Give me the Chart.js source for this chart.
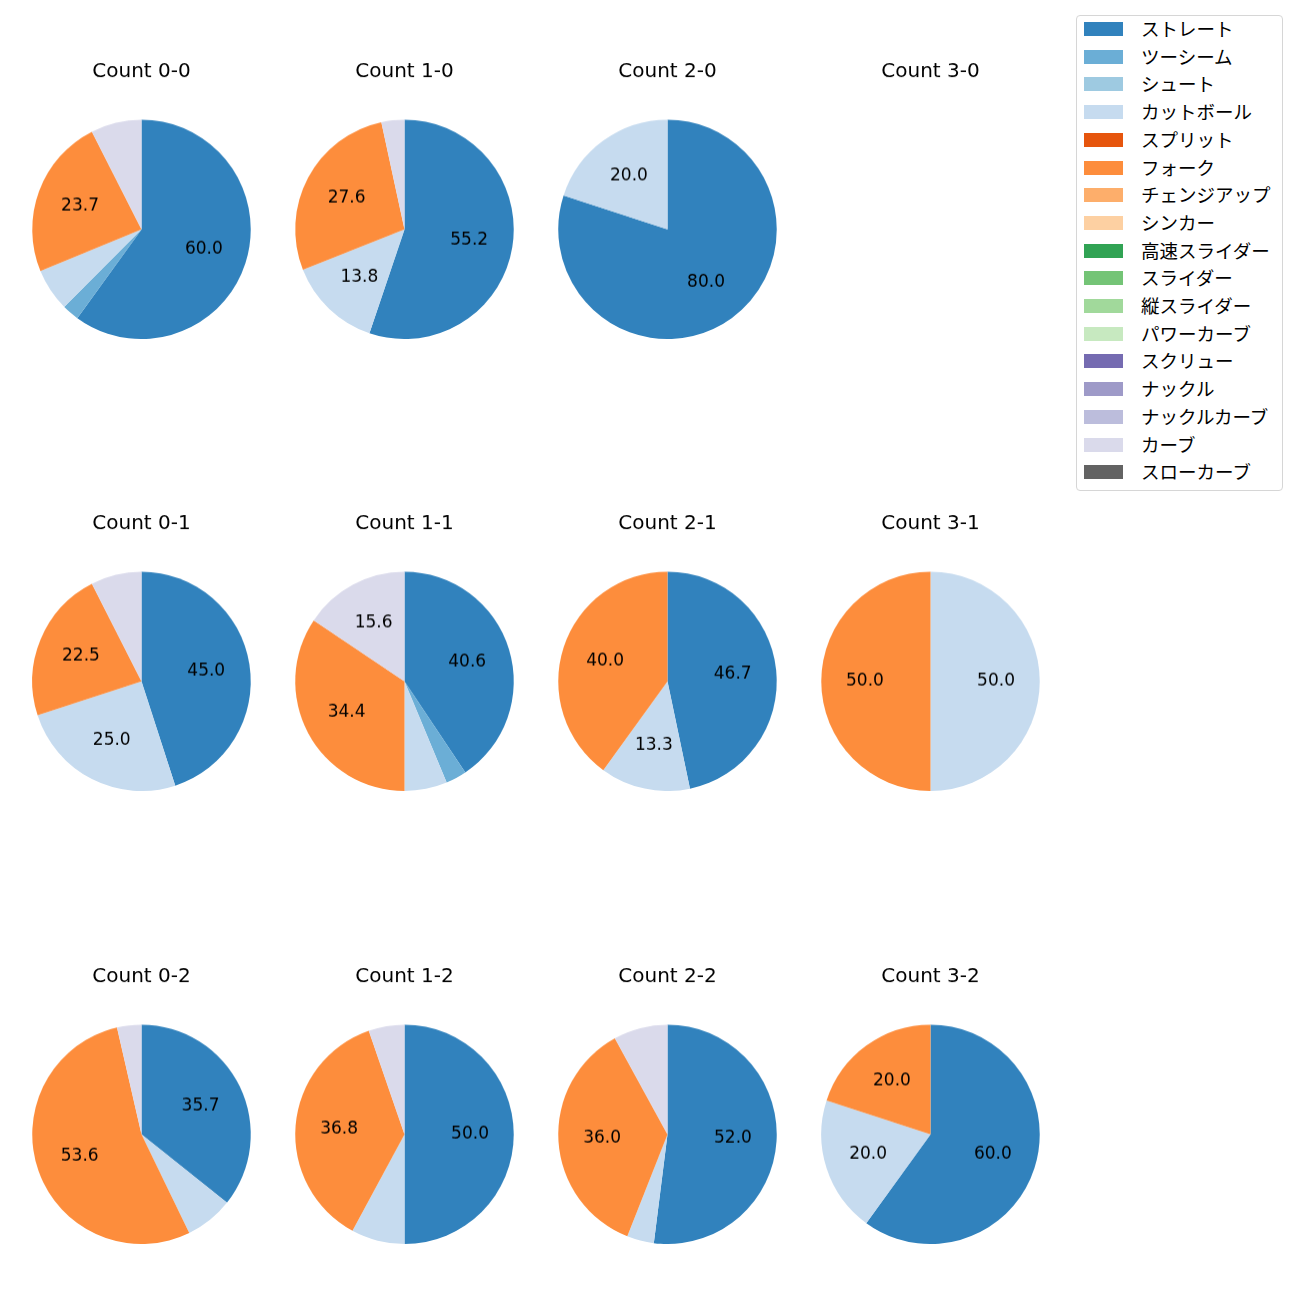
<!DOCTYPE html>
<html>
<head>
<meta charset="utf-8">
<script src="https://cdn.jsdelivr.net/npm/chart.js@4"></script>
<style>
  body { margin: 0; background: #fff; font-family: "Noto Sans CJK JP", sans-serif; }
  #page { position: relative; width: 1300px; height: 1300px; }
  #legend {
    position: absolute; left: 1076px; top: 15px; width: 205px; height: 474px;
    border: 1px solid #d6d6d6; border-radius: 4px; background: #fff;
  }
  .item { position: absolute; left: 7px; height: 20px; font-size: 18.5px; line-height: 20px; color: #000; white-space: nowrap; }
  .item span.box { position: absolute; left: 0; top: 3px; width: 39px; height: 14px; }
  .item span.txt { position: absolute; left: 57px; top: -1px; }
</style>
</head>
<body>
<div id="page"><div id="legend"></div></div>
<script>
  const pitchTypes = [
    "ストレート", "ツーシーム", "シュート", "カットボール", "スプリット", "フォーク",
    "チェンジアップ", "シンカー", "高速スライダー", "スライダー", "縦スライダー",
    "パワーカーブ", "スクリュー", "ナックル", "ナックルカーブ", "カーブ", "スローカーブ",
  ];
  const colors = [
    "#3182bd", "#6baed6", "#9ecae1", "#c6dbef", "#e6550d", "#fd8d3c",
    "#fdae6b", "#fdd0a2", "#31a354", "#74c476", "#a1d99b", "#c7e9c0",
    "#756bb1", "#9e9ac8", "#bcbddc", "#dadaeb", "#636363",
  ];

  // counts in grid order (row by row)
  const counts = ["0-0", "1-0", "2-0", "3-0", "0-1", "1-1", "2-1", "3-1", "0-2", "1-2", "2-2", "3-2"];

  // share (%) of each pitch type per count
  const straight = [60.0, 55.2, 80.0, 0, 45.0, 40.6, 46.7, 0, 35.7, 50.0, 52.0, 60.0];
  const twoSeam = [2.5, 0, 0, 0, 0, 3.1, 0, 0, 0, 0, 0, 0];
  const cutter = [6.3, 13.8, 20.0, 0, 25.0, 6.3, 13.3, 50.0, 7.1, 7.9, 4.0, 20.0];
  const fork = [23.7, 27.6, 0, 0, 22.5, 34.4, 40.0, 50.0, 53.6, 36.8, 36.0, 20.0];
  const curve = [7.5, 3.4, 0, 0, 7.5, 15.6, 0, 0, 3.6, 5.3, 8.0, 0];

  const seriesByType = {
    "ストレート": straight,
    "ツーシーム": twoSeam,
    "カットボール": cutter,
    "フォーク": fork,
    "カーブ": curve,
  };

  const colX = [141, 404, 667, 930];
  const rowY = [229, 681, 1134];
  const R = 109.5;
  const titleSize = 20;
  const titleGap = 157; // pie centre to title line centre
  const latin = '"DejaVu Sans", "Noto Sans CJK JP", sans-serif';

  // percent labels at 0.6 of the radius, hidden under 10%
  const pctLabels = {
    id: "pctLabels",
    afterDatasetsDraw(chart) {
      const ctx = chart.ctx;
      const ds = chart.data.datasets[0];
      const total = ds.data.reduce((a, b) => a + b, 0);
      if (!total) return;
      ctx.save();
      ctx.font = "17px " + latin;
      ctx.fillStyle = "#000";
      ctx.textAlign = "center";
      ctx.textBaseline = "middle";
      chart.getDatasetMeta(0).data.forEach((arc, i) => {
        const v = ds.data[i];
        if (v / total * 100 < 10) return;
        const mid = (arc.startAngle + arc.endAngle) / 2;
        const r = arc.outerRadius * 0.6;
        ctx.fillText(v.toFixed(1), arc.x + Math.cos(mid) * r, arc.y + Math.sin(mid) * r);
      });
      ctx.restore();
    },
  };

  const page = document.getElementById("page");

  counts.forEach((c, k) => {
    const cx = colX[k % 4];
    const cy = rowY[Math.floor(k / 4)];
    const lineH = titleSize * 1.2;
    const padBottom = titleGap - R - lineH / 2;
    const w = 2 * R + 40;
    const h = lineH + padBottom + 2 * R;
    const box = document.createElement("div");
    box.style.position = "absolute";
    box.style.left = (cx - w / 2) + "px";
    box.style.top = (cy - titleGap - lineH / 2) + "px";
    box.style.width = w + "px";
    box.style.height = h + "px";
    const canvas = document.createElement("canvas");
    canvas.style.width = w + "px";
    canvas.style.height = h + "px";
    box.appendChild(canvas);
    page.appendChild(box);

    const data = pitchTypes.map((p) => (seriesByType[p] ? seriesByType[p][k] : 0));

    new Chart(canvas, {
      type: "pie",
      data: {
        labels: pitchTypes,
        datasets: [
          {
            data: data,
            backgroundColor: colors,
            borderWidth: 0,
          },
        ],
      },
      options: {
        responsive: false,
        maintainAspectRatio: false,
        animation: false,
        layout: { padding: 0 },
        plugins: {
          legend: { display: false },
          tooltip: { enabled: false },
          title: {
            display: true,
            text: "Count " + c,
            color: "#000",
            font: { family: latin, size: titleSize, weight: "normal", lineHeight: 1.2 },
            padding: { top: 0, bottom: padBottom },
          },
        },
      },
      plugins: [pctLabels],
    });
  });

  // legend
  const legend = document.getElementById("legend");
  pitchTypes.forEach((p, i) => {
    const item = document.createElement("div");
    item.className = "item";
    item.style.top = (3 + 27.7 * i) + "px";
    item.innerHTML = '<span class="box" style="background:' + colors[i] + '"></span><span class="txt">' + p + "</span>";
    legend.appendChild(item);
  });
</script>
</body>
</html>
